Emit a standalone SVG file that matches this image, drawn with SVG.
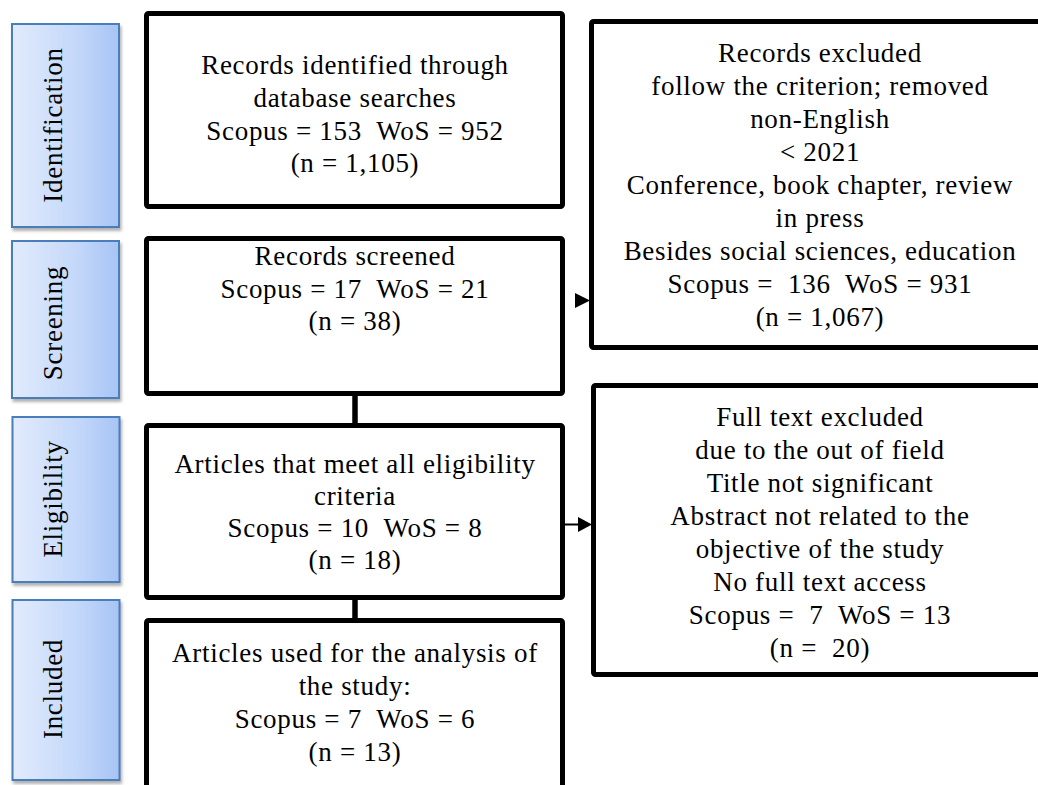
<svg xmlns="http://www.w3.org/2000/svg" width="1038" height="785" viewBox="0 0 1038 785">
<defs>
<linearGradient id="lg" x1="0" y1="0" x2="1" y2="0">
<stop offset="0" stop-color="#e2ebfc"/>
<stop offset="0.6" stop-color="#c4d8fa"/>
<stop offset="1" stop-color="#a7c4f5"/>
</linearGradient>
<filter id="sh" x="-20%" y="-20%" width="140%" height="140%">
<feDropShadow dx="1.5" dy="3" stdDeviation="1.5" flood-color="#7f7f7f" flood-opacity="0.6"/>
</filter>
<style>
.stage{fill:url(#lg);stroke:#4a7ebb;stroke-width:2;filter:url(#sh)}
.box{fill:#fff;stroke:#000;stroke-width:5}
.t{font-family:"Liberation Serif","Times New Roman",serif;font-size:27px;letter-spacing:0.7px;fill:#000;text-anchor:middle;white-space:pre}
.conn{stroke:#000;fill:none}
</style>
</defs>
<rect width="1038" height="785" fill="#fff"/>

<g id="stage-identification">
<rect class="stage" x="12" y="24" width="107" height="203"/>
<text class="t" transform="translate(62,125) rotate(-90)">Identification</text>
</g>
<g id="stage-screening">
<rect class="stage" x="12" y="241" width="107" height="157"/>
<text class="t" transform="translate(62,323) rotate(-90)">Screening</text>
</g>
<g id="stage-eligibility">
<rect class="stage" x="12.5" y="417" width="107" height="165"/>
<text class="t" transform="translate(62,499) rotate(-90)">Eligibility</text>
</g>
<g id="stage-included">
<rect class="stage" x="12.5" y="600" width="107" height="180"/>
<text class="t" transform="translate(62,689) rotate(-90)">Included</text>
</g>

<g id="connectors">
<line class="conn" x1="355" y1="394" x2="355" y2="426" stroke-width="5.5"/>
<line class="conn" x1="355" y1="598" x2="355" y2="621" stroke-width="5.5"/>
<polygon points="575,293 575,308 590,300.5" fill="#000"/>
<line class="conn" x1="564" y1="524.5" x2="579" y2="524.5" stroke-width="2"/>
<polygon points="578,517 578,532 592,524.5" fill="#000"/>
</g>

<g id="node-identified">
<rect class="box" x="146.5" y="13.5" width="416" height="193" rx="2"/>
<text class="t" x="355" y="74">Records identified through</text>
<text class="t" x="355" y="107">database searches</text>
<text class="t" x="355" y="140">Scopus = 153  WoS = 952</text>
<text class="t" x="355" y="172">(n = 1,105)</text>
</g>

<g id="node-screened">
<rect class="box" x="146.5" y="238.5" width="416" height="155" rx="2"/>
<text class="t" x="355" y="265">Records screened</text>
<text class="t" x="355" y="298">Scopus = 17  WoS = 21</text>
<text class="t" x="355" y="330">(n = 38)</text>
</g>

<g id="node-eligible">
<rect class="box" x="146.5" y="425.5" width="416" height="172" rx="2"/>
<text class="t" x="355" y="473">Articles that meet all eligibility</text>
<text class="t" x="355" y="505">criteria</text>
<text class="t" x="355" y="537">Scopus = 10  WoS = 8</text>
<text class="t" x="355" y="569">(n = 18)</text>
</g>

<g id="node-included">
<rect class="box" x="146.5" y="620.5" width="416" height="200" rx="2"/>
<text class="t" x="355" y="662">Articles used for the analysis of</text>
<text class="t" x="355" y="695">the study:</text>
<text class="t" x="355" y="728">Scopus = 7  WoS = 6</text>
<text class="t" x="355" y="761">(n = 13)</text>
</g>

<g id="node-excluded">
<rect class="box" x="591.5" y="21.5" width="470" height="326" rx="2"/>
<text class="t" x="820" y="62">Records excluded</text>
<text class="t" x="820" y="95">follow the criterion; removed</text>
<text class="t" x="820" y="128">non-English</text>
<text class="t" x="820" y="161">&lt; 2021</text>
<text class="t" x="820" y="194">Conference, book chapter, review</text>
<text class="t" x="820" y="227">in press</text>
<text class="t" x="820" y="260">Besides social sciences, education</text>
<text class="t" x="820" y="293">Scopus =  136  WoS = 931</text>
<text class="t" x="820" y="326">(n = 1,067)</text>
</g>

<g id="node-fulltext-excluded">
<rect class="box" x="593.5" y="385.5" width="470" height="289" rx="2"/>
<text class="t" x="820" y="426">Full text excluded</text>
<text class="t" x="820" y="459">due to the out of field</text>
<text class="t" x="820" y="492">Title not significant</text>
<text class="t" x="820" y="525">Abstract not related to the</text>
<text class="t" x="820" y="558">objective of the study</text>
<text class="t" x="820" y="591">No full text access</text>
<text class="t" x="820" y="624">Scopus =  7  WoS = 13</text>
<text class="t" x="820" y="657">(n =  20)</text>
</g>
</svg>
